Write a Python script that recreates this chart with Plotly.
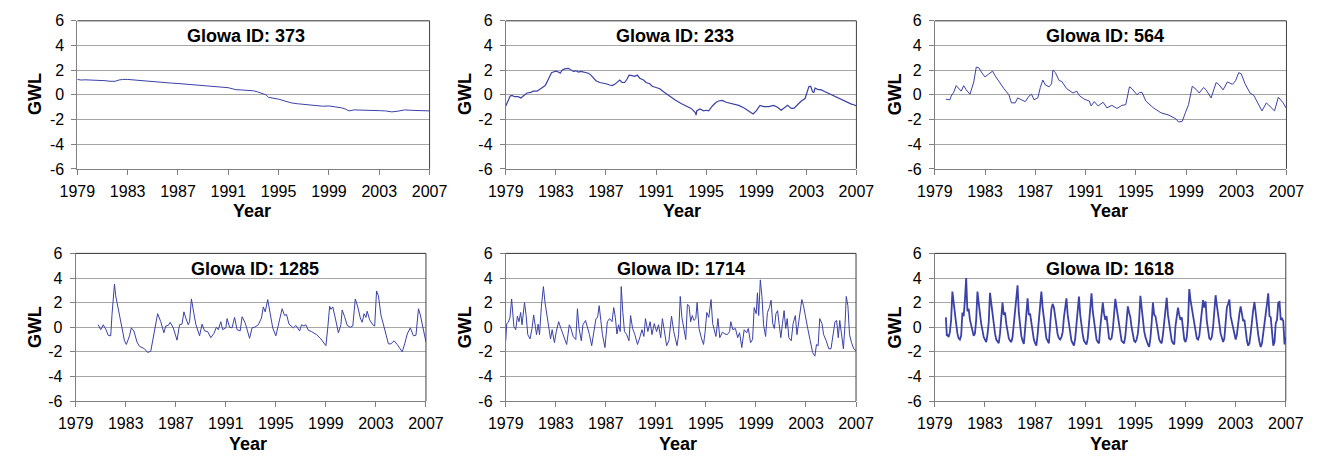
import plotly.graph_objects as go

FONT = "Arial, 'Liberation Sans', sans-serif"
LINE_COLOR = "#3a41a8"

YEAR_TICKS = [1979, 1983, 1987, 1991, 1995, 1999, 2003, 2007]
GWL_TICKS = [-6, -4, -2, 0, 2, 4, 6]
GWL_TICK_TEXT = ["-6", "-4", "-2", "0", "2", "4", "6"]
PANEL_IDS = ["373", "233", "564", "1285", "1714", "1618"]

# (decimal year, GWL) pairs
GWL_373 = [
    (1979.0, 1.25), (1979.3, 1.2), (1979.6, 1.22), (1980.0, 1.2), (1980.4, 1.23), (1980.8, 1.18),
    (1981.2, 1.15), (1981.6, 1.1), (1982.0, 1.1), (1982.3, 1.2), (1982.6, 1.25), (1983.0, 1.25),
    (1983.5, 1.2), (1984.0, 1.17), (1984.5, 1.13), (1985.0, 1.1), (1985.5, 1.05), (1986.0, 0.97),
    (1986.5, 0.95), (1987.0, 0.92), (1987.5, 0.88), (1988.0, 0.82), (1988.5, 0.78), (1989.0, 0.72),
    (1989.5, 0.68), (1990.0, 0.64), (1990.5, 0.62), (1991.0, 0.58), (1991.3, 0.5), (1991.6, 0.42),
    (1992.0, 0.4), (1992.5, 0.38), (1993.0, 0.33), (1993.3, 0.25), (1993.6, 0.12), (1994.0, 0.0),
    (1994.2, -0.2), (1994.5, -0.25), (1995.0, -0.35), (1995.5, -0.5), (1996.0, -0.65), (1996.5, -0.72),
    (1997.0, -0.78), (1997.5, -0.85), (1998.0, -0.92), (1998.5, -0.92), (1999.0, -0.9), (1999.5, -0.95),
    (2000.0, -1.05), (2000.3, -1.15), (2000.6, -1.3), (2001.0, -1.22), (2001.5, -1.25), (2002.0, -1.28),
    (2002.5, -1.3), (2003.0, -1.28), (2003.5, -1.3), (2004.0, -1.38), (2004.5, -1.32), (2005.0, -1.22),
    (2005.5, -1.25), (2006.0, -1.28), (2006.5, -1.27), (2007.0, -1.3),
]

GWL_233 = [
    (1979.0, -0.9), (1979.1, -0.6), (1979.2, -0.45), (1979.35, -0.1), (1979.5, -0.05), (1979.7, -0.15),
    (1980.0, -0.15), (1980.2, -0.25), (1980.4, -0.1), (1980.7, 0.15), (1981.0, 0.2), (1981.2, 0.3),
    (1981.5, 0.3), (1981.8, 0.5), (1982.0, 0.65), (1982.15, 0.75), (1982.3, 1.05), (1982.5, 1.5),
    (1982.65, 1.8), (1982.8, 1.85), (1983.0, 1.92), (1983.2, 1.85), (1983.35, 1.75), (1983.5, 2.0),
    (1983.7, 2.1), (1984.0, 2.15), (1984.2, 2.05), (1984.4, 1.9), (1984.6, 1.95), (1984.8, 1.85),
    (1985.0, 1.9), (1985.3, 1.85), (1985.6, 1.75), (1985.8, 1.6), (1986.0, 1.35), (1986.2, 1.15),
    (1986.5, 1.0), (1986.8, 0.95), (1987.0, 0.9), (1987.3, 0.8), (1987.5, 0.75), (1987.7, 0.85),
    (1987.9, 1.05), (1988.1, 1.2), (1988.3, 1.0), (1988.5, 1.0), (1988.7, 1.3), (1988.85, 1.6),
    (1989.0, 1.58), (1989.3, 1.5), (1989.5, 1.6), (1989.7, 1.35), (1990.0, 1.2), (1990.2, 1.0),
    (1990.5, 0.9), (1990.7, 0.7), (1991.0, 0.6), (1991.3, 0.5), (1991.6, 0.25), (1992.0, -0.05),
    (1992.5, -0.4), (1993.0, -0.7), (1993.5, -0.95), (1993.8, -1.1), (1994.0, -1.3), (1994.15, -1.45),
    (1994.2, -1.65), (1994.25, -1.3), (1994.5, -1.15), (1994.8, -1.3), (1995.0, -1.25), (1995.2, -1.3),
    (1995.5, -0.9), (1995.8, -0.6), (1996.0, -0.5), (1996.3, -0.45), (1996.6, -0.6), (1997.0, -0.7),
    (1997.3, -0.75), (1997.6, -0.85), (1998.0, -1.05), (1998.4, -1.3), (1998.75, -1.55), (1999.0, -1.3),
    (1999.3, -0.85), (1999.6, -0.95), (2000.0, -0.95), (2000.4, -0.85), (2000.7, -1.0), (2001.0, -1.25),
    (2001.3, -1.05), (2001.5, -0.85), (2001.8, -1.1), (2002.0, -1.1), (2002.3, -0.8), (2002.6, -0.5),
    (2002.9, -0.3), (2003.05, 0.2), (2003.2, 0.65), (2003.35, 0.7), (2003.5, 0.25), (2003.6, 0.2),
    (2003.7, 0.55), (2003.9, 0.45), (2004.2, 0.4), (2004.5, 0.25), (2004.8, 0.1), (2005.0, 0.0),
    (2005.3, -0.15), (2005.6, -0.3), (2006.0, -0.5), (2006.3, -0.6), (2006.6, -0.75), (2006.8, -0.8),
    (2007.0, -0.9),
]

GWL_564 = [
    (1979.88, -0.35), (1980.2, -0.4), (1980.3, -0.1), (1980.5, 0.2), (1980.7, 0.75), (1980.9, 0.5),
    (1981.1, 0.3), (1981.3, 0.75), (1981.5, 0.4), (1981.8, 0.05), (1982.1, 1.05), (1982.3, 2.25),
    (1982.5, 2.2), (1982.8, 1.7), (1983.0, 1.45), (1983.3, 1.7), (1983.6, 1.92), (1983.8, 1.55),
    (1984.1, 1.05), (1984.5, 0.5), (1984.9, 0.0), (1985.1, -0.65), (1985.4, -0.65), (1985.6, -0.25),
    (1985.8, -0.35), (1986.2, -0.55), (1986.5, -0.1), (1986.7, 0.05), (1986.9, -0.4), (1987.2, -0.25),
    (1987.4, 0.6), (1987.6, 1.2), (1987.8, 0.8), (1988.1, 0.65), (1988.3, 0.9), (1988.4, 2.0),
    (1988.6, 1.8), (1988.9, 1.15), (1989.1, 1.1), (1989.5, 0.5), (1990.0, 0.15), (1990.3, 0.3),
    (1990.5, -0.05), (1990.9, -0.35), (1991.3, -0.5), (1991.45, -0.9), (1991.7, -0.55), (1992.0, -0.9),
    (1992.4, -0.6), (1992.7, -1.05), (1993.1, -0.85), (1993.5, -1.1), (1993.9, -0.85), (1994.2, -0.8),
    (1994.5, 0.65), (1994.7, 0.5), (1995.1, 0.0), (1995.3, 0.2), (1995.5, 0.2), (1995.8, -0.5),
    (1996.4, -1.05), (1997.0, -1.45), (1997.65, -1.65), (1998.2, -1.95), (1998.4, -2.2), (1998.7, -2.15),
    (1998.95, -1.45), (1999.2, -0.8), (1999.5, 0.7), (1999.8, 0.45), (2000.05, 0.15), (2000.4, 0.6),
    (2000.6, 0.4), (2001.0, -0.25), (2001.4, 1.0), (2001.65, 0.8), (2001.95, 0.4), (2002.3, 1.05),
    (2002.7, 0.85), (2002.95, 1.15), (2003.2, 1.8), (2003.4, 1.7), (2003.7, 0.9), (2004.1, 0.15),
    (2004.4, -0.05), (2004.75, -0.8), (2005.05, -1.3), (2005.4, -0.65), (2005.65, -0.9), (2006.05, -1.3),
    (2006.35, -0.2), (2006.7, -0.6), (2007.0, -1.1),
]

GWL_1285 = [
    (1980.8, 0.2), (1981.0, -0.2), (1981.2, 0.2), (1981.4, -0.15), (1981.6, -0.65), (1981.8, -0.7),
    (1981.9, 1.0), (1982.0, 2.4), (1982.1, 3.5), (1982.2, 2.55), (1982.4, 1.5), (1982.6, 0.35),
    (1982.9, -1.1), (1983.05, -1.4), (1983.3, -0.7), (1983.45, -0.05), (1983.65, -0.3), (1983.9, -1.2),
    (1984.1, -1.55), (1984.5, -1.75), (1984.75, -2.05), (1985.0, -1.95), (1985.2, -0.85), (1985.4, 0.2),
    (1985.55, 1.1), (1985.8, 0.45), (1986.05, -0.45), (1986.2, 0.1), (1986.4, 0.15), (1986.55, 0.4),
    (1986.8, -0.05), (1987.1, -1.05), (1987.3, 0.2), (1987.5, 0.25), (1987.65, 1.25), (1987.8, 0.75),
    (1988.0, 0.2), (1988.1, 0.45), (1988.25, 2.3), (1988.45, 1.1), (1988.6, 0.25), (1988.9, -0.7),
    (1989.1, 0.25), (1989.3, -0.3), (1989.55, -0.35), (1989.8, -0.85), (1990.05, -0.5), (1990.25, 0.0),
    (1990.4, -0.2), (1990.6, 0.45), (1990.75, -0.2), (1991.0, -0.05), (1991.1, 0.7), (1991.3, 0.0),
    (1991.5, -0.05), (1991.7, 0.8), (1991.9, -0.2), (1992.15, -0.3), (1992.3, 0.85), (1992.55, 0.35),
    (1992.9, -0.9), (1993.1, -0.05), (1993.3, 0.0), (1993.6, 0.2), (1993.85, 0.75), (1994.0, 1.65),
    (1994.15, 1.25), (1994.35, 2.25), (1994.55, 1.1), (1994.75, -0.05), (1995.0, -0.7), (1995.25, 0.45),
    (1995.5, 1.5), (1995.7, 0.95), (1995.85, 1.05), (1996.05, 0.25), (1996.4, -0.05), (1996.6, 0.15),
    (1996.9, -0.3), (1997.05, 0.2), (1997.25, 0.1), (1997.4, 0.2), (1997.6, -0.25), (1997.85, -0.35),
    (1998.25, -0.6), (1998.6, -0.95), (1998.9, -1.35), (1999.0, -1.5), (1999.15, -0.05), (1999.3, 1.7),
    (1999.4, 1.45), (1999.55, 1.65), (1999.75, 0.75), (2000.0, -0.45), (2000.2, 0.2), (2000.3, 1.4),
    (2000.5, 0.85), (2000.7, 0.15), (2000.95, 0.0), (2001.15, 0.1), (2001.35, 2.3), (2001.55, 1.65),
    (2001.75, 0.75), (2001.9, 0.4), (2002.05, 1.1), (2002.2, 0.8), (2002.3, 1.3), (2002.5, 0.6),
    (2002.75, 0.2), (2002.9, 0.1), (2003.05, 2.95), (2003.2, 2.55), (2003.4, 1.0), (2003.7, -0.3),
    (2004.0, -1.35), (2004.2, -1.35), (2004.45, -1.1), (2004.7, -1.4), (2005.1, -2.0), (2005.3, -1.35),
    (2005.5, -0.55), (2005.75, -0.05), (2006.0, -0.7), (2006.2, -0.65), (2006.4, 1.5), (2006.55, 1.0),
    (2006.75, -0.05), (2007.0, -1.2),
]

GWL_1714 = [
    (1979.0, -1.1), (1979.08, 0.3), (1979.21, 0.4), (1979.34, 0.8), (1979.47, 2.3), (1979.54, 1.35),
    (1979.65, 0.05), (1979.8, -0.2), (1979.93, 0.9), (1980.06, 0.45), (1980.19, 1.2), (1980.3, 0.2),
    (1980.4, 1.2), (1980.5, 2.0), (1980.63, 0.95), (1980.76, -0.6), (1980.94, -0.95), (1981.1, -0.1),
    (1981.23, 1.0), (1981.36, -0.1), (1981.46, -0.6), (1981.59, 0.25), (1981.7, -0.6), (1981.85, 1.7),
    (1982.01, 3.3), (1982.14, 2.0), (1982.32, 0.75), (1982.45, -0.35), (1982.58, -0.95), (1982.71, -0.2),
    (1982.89, -1.25), (1983.04, -0.35), (1983.23, 0.45), (1983.41, -0.1), (1983.61, -0.6), (1983.87, -1.4),
    (1984.08, 0.2), (1984.21, -0.1), (1984.39, -0.75), (1984.6, -1.0), (1984.73, 1.5), (1984.86, -0.1),
    (1985.04, -1.1), (1985.17, 0.2), (1985.38, 0.55), (1985.56, -0.1), (1985.69, -0.6), (1985.87, -1.5),
    (1986.03, -0.6), (1986.21, 0.7), (1986.34, 0.8), (1986.47, 1.75), (1986.6, 0.55), (1986.73, -0.6),
    (1986.93, -1.65), (1987.12, 0.45), (1987.3, 0.7), (1987.5, 0.45), (1987.63, 1.6), (1987.76, 0.8),
    (1987.89, -0.55), (1988.02, 0.2), (1988.15, -0.35), (1988.23, 3.3), (1988.36, 1.2), (1988.49, -0.35),
    (1988.67, -0.6), (1988.85, -1.1), (1988.98, 0.95), (1989.14, -0.1), (1989.32, -0.6), (1989.53, -1.4),
    (1989.71, -0.85), (1989.89, -0.2), (1990.04, -0.75), (1990.17, 0.7), (1990.36, -0.35), (1990.54, 0.45),
    (1990.69, -0.6), (1990.87, 0.3), (1991.06, -0.35), (1991.21, 0.2), (1991.39, -0.85), (1991.52, 0.7),
    (1991.65, -0.1), (1991.86, -1.5), (1992.04, -1.1), (1992.25, 0.9), (1992.43, -0.35), (1992.69, -1.5),
    (1992.82, -0.6), (1992.95, 2.5), (1993.08, 0.8), (1993.21, -0.1), (1993.39, -1.0), (1993.52, 1.85),
    (1993.65, 1.75), (1993.78, 0.45), (1993.91, 0.95), (1994.04, 0.55), (1994.19, 0.7), (1994.3, 2.0),
    (1994.45, -0.1), (1994.63, -0.85), (1994.81, -1.4), (1994.94, -0.35), (1995.07, 1.2), (1995.23, 0.8),
    (1995.41, 2.25), (1995.54, 0.3), (1995.67, -0.35), (1995.8, -0.75), (1995.96, 0.7), (1996.11, -0.85),
    (1996.32, -0.4), (1996.53, -0.55), (1996.71, -0.6), (1996.89, -0.35), (1996.99, 0.45), (1997.15, -0.2),
    (1997.36, -0.1), (1997.54, -0.85), (1997.69, -0.45), (1997.87, -1.65), (1998.06, -0.2), (1998.26, -0.45),
    (1998.39, -0.1), (1998.57, -1.25), (1998.73, -1.0), (1998.86, 1.6), (1999.02, 1.1), (1999.12, 2.8),
    (1999.22, 0.95), (1999.35, 3.85), (1999.48, 2.5), (1999.61, 0.2), (1999.77, -0.75), (1999.92, 1.2),
    (2000.08, 1.6), (2000.21, 2.2), (2000.34, 0.3), (2000.47, -0.1), (2000.6, 1.1), (2000.73, 1.35),
    (2000.86, 0.2), (2000.99, -0.85), (2001.12, 0.3), (2001.25, 1.35), (2001.38, -0.1), (2001.5, 0.7),
    (2001.63, -0.85), (2001.82, -1.1), (2001.97, 0.3), (2002.15, 0.95), (2002.28, -0.6), (2002.41, 0.45),
    (2002.54, 1.35), (2002.67, 2.25), (2002.8, 1.75), (2002.93, 0.95), (2003.06, 0.3), (2003.14, -0.1),
    (2003.32, -1.0), (2003.53, -2.05), (2003.71, -2.35), (2003.84, -1.4), (2003.97, -1.5), (2004.1, 0.7),
    (2004.28, 0.3), (2004.41, -0.6), (2004.62, -1.1), (2004.82, -1.75), (2005.0, -1.75), (2005.19, -0.6),
    (2005.32, 0.45), (2005.45, 0.55), (2005.58, -0.85), (2005.7, 0.55), (2005.83, -0.6), (2005.99, -1.75),
    (2006.12, 0.2), (2006.22, 2.5), (2006.35, 1.75), (2006.48, -0.6), (2006.64, -1.25), (2006.82, -1.75),
    (2007.0, -1.9),
]

# ID 1618: start of record, then one row per year sampled at tenths of a year
GWL_1618_START = [(1979.88, 0.8), (1979.92, -0.3), (1979.96, -0.7)]
GWL_1618_YEARS = {
    1980: [-0.6, -0.8, -0.4, 0.6, 2.9, 1.9, 1.0, 0.3, -0.5, -0.9],
    1981: [-1.0, -0.7, 1.2, 0.9, 2.2, 4.0, 1.3, 1.5, 0.6, 0.2],
    1982: [-0.2, -0.7, -0.5, 0.6, 2.9, 2.2, 1.1, 0.3, -0.3, -0.8],
    1983: [-1.0, -1.2, -0.6, 0.4, 2.8, 1.9, 1.2, 0.2, -0.5, -1.0],
    1984: [-1.2, -1.3, -0.5, 0.7, 2.0, 1.0, 1.2, 0.3, -0.4, -0.9],
    1985: [-1.1, -1.2, -0.8, 0.3, 0.8, 2.0, 3.4, 1.2, 0.2, -0.7],
    1986: [-1.1, -1.35, -0.2, 1.0, 2.35, 1.0, 1.1, 0.4, -0.6, -1.0],
    1987: [-1.3, -1.5, -0.6, 0.8, 1.8, 2.9, 1.6, 0.8, -0.2, -0.9],
    1988: [-1.1, -1.3, 0.2, 1.5, 1.9, 1.6, 0.9, 0.1, -0.6, -0.9],
    1989: [-1.0, -0.8, -0.4, 0.8, 1.5, 2.35, 1.0, 0.2, -0.5, -1.1],
    1990: [-1.3, -1.5, -0.9, 0.4, 1.5, 2.5, 1.0, 0.1, -0.6, -1.1],
    1991: [-1.3, -1.4, -0.9, 0.2, 1.4, 2.75, 1.3, 0.5, -0.4, -1.0],
    1992: [-1.2, -1.3, 0.0, 1.0, 2.0, 1.1, 0.6, 0.9, -0.3, -0.9],
    1993: [-1.0, -0.9, -0.2, 0.9, 2.3, 1.6, 1.0, 0.2, -0.5, -1.1],
    1994: [-1.2, -1.3, -0.7, 0.5, 1.7, 1.2, 0.8, 0.0, -0.7, -1.1],
    1995: [-1.2, -1.0, -0.5, 0.6, 2.55, 1.5, 0.4, -0.3, -0.8, -1.2],
    1996: [-1.4, -1.6, -0.9, 0.4, 2.0, 1.0, 0.9, 0.3, -0.4, -1.0],
    1997: [-1.2, -1.3, -0.6, 0.6, 1.5, 2.4, 1.0, 0.3, -0.5, -1.1],
    1998: [-1.3, -1.4, 0.1, 0.9, 1.6, 1.0, 0.6, 0.8, -0.4, -1.0],
    1999: [-1.2, -0.8, 0.4, 3.1, 2.2, 1.5, 0.9, 0.2, -0.5, -0.9],
    2000: [-1.0, -0.7, 0.3, 1.2, 2.2, 1.6, 2.1, 0.5, -0.4, -0.9],
    2001: [-1.0, -0.8, 0.0, 1.1, 2.6, 1.8, 1.2, 0.3, -0.5, -1.0],
    2002: [-1.2, -0.9, 0.4, 1.6, 1.9, 2.25, 0.9, 0.4, -0.3, -0.8],
    2003: [-1.0, -0.6, 0.6, 1.1, 1.7, 0.9, 0.5, 0.6, -0.4, -1.1],
    2004: [-1.5, -1.3, -0.5, 0.6, 1.4, 2.05, 1.0, 0.2, -0.6, -1.2],
    2005: [-1.6, -1.3, -0.6, 0.4, 1.0, 1.9, 2.75, 0.9, 0.8, -0.2],
    2006: [-1.5, -1.2, 0.3, 0.6, 2.0, 2.05, 0.6, 0.7, 0.5, -1.4],
}
GWL_1618_END = [(2007.0, -0.8)]


def build_1618():
    pts = list(GWL_1618_START)
    for year, row in GWL_1618_YEARS.items():
        for k, val in enumerate(row):
            pts.append((year + k / 10.0, val))
    pts.extend(GWL_1618_END)
    return pts


SERIES = [GWL_373, GWL_233, GWL_564, GWL_1285, GWL_1714, build_1618()]

# layout geometry (paper fractions)
W, H = 1332, 465
X_DOMAINS = [
    (61 / W, 423 / W), (501.3 / W, 861.7 / W), (942.3 / W, 1303.7 / W),
    (59.3 / W, 419.3 / W), (501.3 / W, 861.3 / W), (942.3 / W, 1303 / W),
]
Y_DOMAINS = [(1 - 167 / H, 1 - 13.3 / H)] * 3 + [(1 - 408 / H, 1 - 254.7 / H)] * 3
TITLE_POS = [(234, 29.3), (675.7, 29.3), (1117.2, 29.3), (243.5, 271), (681.2, 271), (1122.2, 271)]
GWL_POS = [(17.5, 89.2), (459.5, 89.2), (901.8, 89.2), (17.5, 331.2), (459.5, 331.2), (901.8, 331.2)]
YEAR_POS = [(240, 211), (682.3, 211), (1121.3, 211), (236.7, 452.7), (678.2, 452.7), (1121.3, 452.7)]
LINE_WIDTHS = [1.0, 1.2, 1.0, 1.0, 1.0, 1.8]

fig = go.Figure()
annotations = []
shapes = []
layout_axes = {}

for i, pts in enumerate(SERIES):
    n = i + 1
    sfx = "" if n == 1 else str(n)
    fig.add_trace(go.Scatter(
        x=[p[0] for p in pts], y=[p[1] for p in pts],
        mode="lines", line=dict(color=LINE_COLOR, width=LINE_WIDTHS[i]),
        xaxis="x" + sfx, yaxis="y" + sfx, showlegend=False, hoverinfo="x+y",
    ))
    layout_axes["xaxis" + sfx] = dict(
        domain=list(X_DOMAINS[i]), anchor="y" + sfx, range=[1979, 2007],
        tickmode="array", tickvals=YEAR_TICKS, ticks="outside", ticklen=5,
        tickcolor="#808080", showline=True, linecolor="#808080", linewidth=1,
        showgrid=False, zeroline=False, ticklabelstandoff=3,
        tickfont=dict(family=FONT, size=16, color="black"),
    )
    layout_axes["yaxis" + sfx] = dict(
        domain=list(Y_DOMAINS[i]), anchor="x" + sfx, range=[-6, 6],
        tickmode="array", tickvals=GWL_TICKS, ticktext=GWL_TICK_TEXT,
        ticks="outside", ticklen=5,
        tickcolor="#808080", showline=True, linecolor="#808080", linewidth=1,
        showgrid=True, gridcolor="#a6a6a6", gridwidth=1, zeroline=False,
        ticklabelstandoff=4,
        tickfont=dict(family=FONT, size=16, color="black"),
    )
    # top and right frame lines of the plot area
    shapes.append(dict(type="line", xref="x" + sfx + " domain", yref="y" + sfx + " domain",
                       x0=0, x1=1, y0=1, y1=1, line=dict(color="#303030", width=1)))
    shapes.append(dict(type="line", xref="x" + sfx + " domain", yref="y" + sfx + " domain",
                       x0=1, x1=1, y0=0, y1=1, line=dict(color="#404040", width=1)))

    tx, ty = TITLE_POS[i]
    annotations.append(dict(text="<b>Glowa ID: %s</b>" % PANEL_IDS[i], x=tx / W, y=1 - ty / H,
                            xref="paper", yref="paper", showarrow=False, xanchor="center",
                            yanchor="middle", font=dict(family=FONT, size=18, color="black")))
    gx, gy = GWL_POS[i]
    annotations.append(dict(text="<b>GWL</b>", x=gx / W, y=1 - gy / H, xref="paper", yref="paper",
                            showarrow=False, textangle=-90, xanchor="center", yanchor="middle",
                            font=dict(family=FONT, size=18, color="black")))
    yx, yy = YEAR_POS[i]
    annotations.append(dict(text="<b>Year</b>", x=yx / W, y=1 - yy / H, xref="paper", yref="paper",
                            showarrow=False, xanchor="center", yanchor="middle",
                            font=dict(family=FONT, size=18, color="black")))

fig.update_layout(
    width=W, height=H, margin=dict(l=0, r=0, t=0, b=0),
    paper_bgcolor="white", plot_bgcolor="white",
    annotations=annotations, shapes=shapes, showlegend=False,
    font=dict(family=FONT, color="black"),
    **layout_axes,
)

fig.write_html("out.html")
